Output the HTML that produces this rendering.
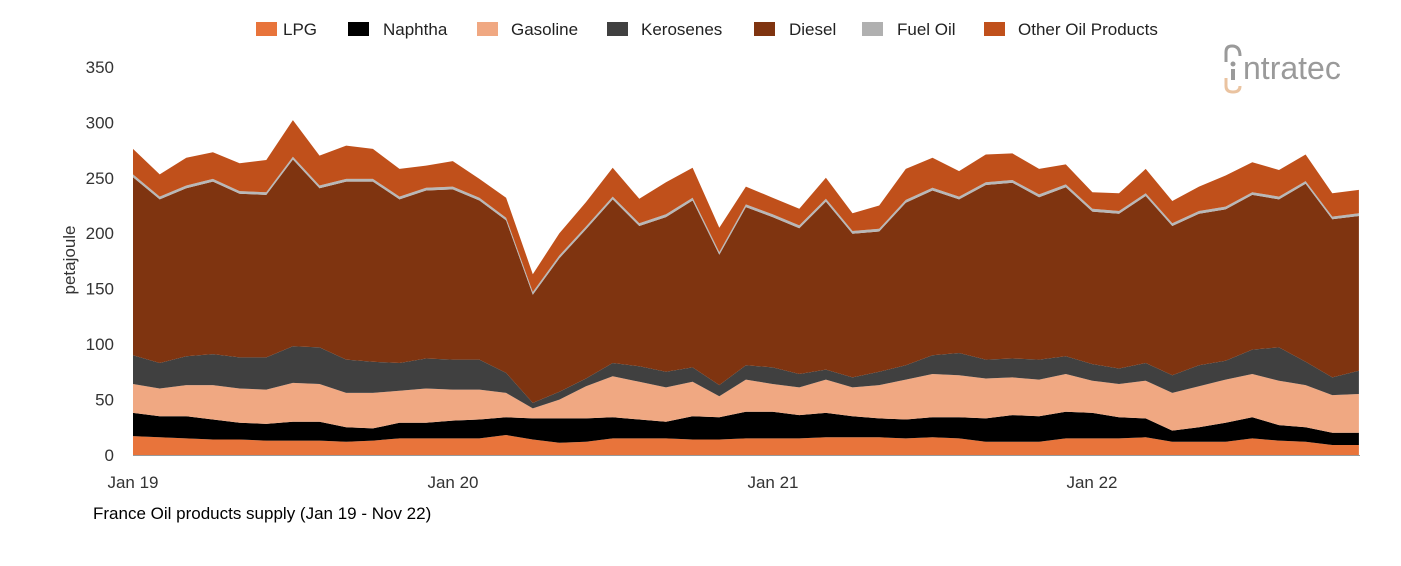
<!DOCTYPE html>
<html><head><meta charset="utf-8"><style>
body{margin:0;width:1401px;height:561px;background:#fff;overflow:hidden;font-family:"Liberation Sans",sans-serif;}
</style></head><body>
<svg id="s" width="1401" height="561" xmlns="http://www.w3.org/2000/svg" font-family="Liberation Sans, sans-serif"></svg>
<script>
const tops={
lpg:[17,16,15,14,14,13,13,13,12,13,15,15,15,15,18,14,11,12,15,15,15,14,14,15,15,15,16,16,16,15,16,15,12,12,12,15,15,15,16,12,12,12,15,13,12,9,9],
nap:[38,35,35,32,29,28,30,30,25,24,29,29,31,32,34,33,33,33,34,32,30,35,34,39,39,36,38,35,33,32,34,34,33,36,35,39,38,34,33,22,25,29,34,27,25,20,20],
gas:[64,60,63,63,60,59,65,64,56,56,58,60,59,59,56,42,50,62,71,66,61,66,53,68,64,61,68,61,63,68,73,72,69,70,68,73,67,64,67,56,62,68,73,67,63,54,55],
ker:[90,83,89,91,88,88,98,97,86,84,83,87,86,86,74,47,57,69,83,80,75,79,63,81,79,73,77,70,75,81,90,92,86,87,86,89,82,78,83,72,81,85,95,97,84,70,76],
fuel:[253,233,243,249,238,237,269,243,249,249,233,241,242,232,214,147,180,206,233,209,217,232,183,226,217,207,231,202,204,230,241,233,246,248,235,244,222,220,236,209,220,224,237,233,247,215,218],
oth:[276,253,268,273,263,266,302,270,279,276,258,261,265,249,232,163,200,228,259,231,246,259,205,242,232,222,250,218,225,258,268,256,271,272,258,262,237,236,258,229,242,252,264,257,271,236,239]};
const dies=tops.fuel.map(v=>v-2.5);
const X=i=>133+i*26.65, Y=v=>455-v*1.109;
const zero=tops.lpg.map(()=>0);
const layers=[[zero,tops.lpg,'#e8743b'],[tops.lpg,tops.nap,'#000'],[tops.nap,tops.gas,'#f0a882'],[tops.gas,tops.ker,'#404040'],[tops.ker,dies,'#7f3410'],[dies,tops.fuel,'#b8b8b8'],[tops.fuel,tops.oth,'#c0501b']];
let h='';
for(const [b,t,c] of layers){
 let p=t.map((v,i)=>X(i).toFixed(1)+','+Y(v).toFixed(1));
 for(let i=b.length-1;i>=0;i--)p.push(X(i).toFixed(1)+','+Y(b[i]).toFixed(1));
 h+=`<polygon points="${p.join(' ')}" fill="${c}"/>`;
}
h+=`<line x1="133" y1="455.5" x2="1360" y2="455.5" stroke="#999"/>`;
for(let v=0;v<=350;v+=50)h+=`<text x="114" y="${Y(v)+6}" text-anchor="end" font-size="17" fill="#333">${v}</text>`;
[['Jan 19',133],['Jan 20',453],['Jan 21',773],['Jan 22',1092]].forEach(([l,x])=>h+=`<text x="${x}" y="488" text-anchor="middle" font-size="17" fill="#333">${l}</text>`);
h+=`<text transform="translate(75,260) rotate(-90)" text-anchor="middle" font-size="17" fill="#333">petajoule</text>`;
h+=`<text x="93" y="519" font-size="17" fill="#000">France Oil products supply (Jan 19 - Nov 22)</text>`;
const leg=[['LPG',256,283,'#e8743b'],['Naphtha',348,383,'#000'],['Gasoline',477,511,'#f0a882'],['Kerosenes',607,641,'#404040'],['Diesel',754,789,'#7f3410'],['Fuel Oil',862,897,'#b0b0b0'],['Other Oil Products',984,1018,'#c0501b']];
leg.forEach(([l,x,tx,c])=>{h+=`<rect x="${x}" y="22" width="21" height="14" fill="${c}"/><text x="${tx}" y="35" font-size="17" fill="#222">${l}</text>`;});
h+=`<text x="1243" y="79" font-size="32" fill="#9a9a9a">ntratec</text>`;
h+=`<circle cx="1233" cy="64" r="2.5" fill="#9a9a9a"/><rect x="1231" y="69" width="4" height="11" fill="#9a9a9a"/>`;
h+=`<path d="M1226 62 V52 Q1226 46 1232 46 Q1240 46 1240 56" fill="none" stroke="#9a9a9a" stroke-width="3"/>`;
h+=`<path d="M1226 78 V86 Q1226 92 1233 92 Q1240 92 1240 86" fill="none" stroke="#eac3a0" stroke-width="3"/>`;
document.getElementById('s').innerHTML=h;
</script>
</body></html>
